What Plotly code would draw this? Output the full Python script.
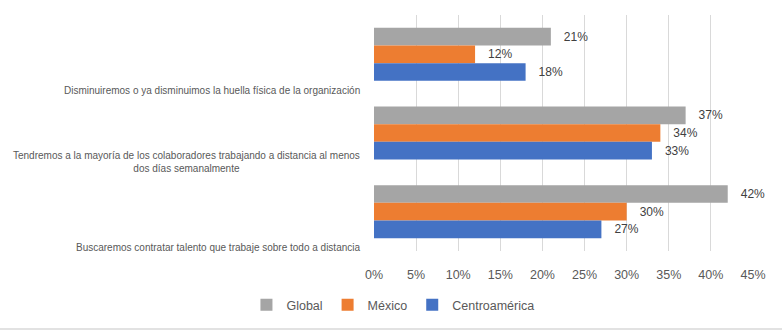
import plotly.graph_objects as go

categories = [
    "Disminuiremos o ya disminuimos la huella física de la organización",
    "Tendremos a la mayoría de los colaboradores trabajando a distancia al menos<br>dos días semanalmente",
    "Buscaremos contratar talento que trabaje sobre todo a distancia",
]
series_names = ["Global", "México", "Centroamérica"]
global_vals = [0.21, 0.37, 0.42]
mexico_vals = [0.12, 0.34, 0.30]
centro_vals = [0.18, 0.33, 0.27]
tick_vals = [0, 0.05, 0.10, 0.15, 0.20, 0.25, 0.30, 0.35, 0.40, 0.45]
tick_text = ["0%", "5%", "10%", "15%", "20%", "25%", "30%", "35%", "40%", "45%"]

colors = ["#A5A5A5", "#ED7D31", "#4472C4"]
FONT = "Liberation Sans"

ypos = list(range(len(categories)))
fig = go.Figure()
for name, vals, col in zip(series_names, [global_vals, mexico_vals, centro_vals], colors):
    fig.add_trace(go.Bar(
        x=vals, y=ypos, orientation="h", name=name,
        marker=dict(color=col, line=dict(width=0)),
        text=[f"{round(v*100)}%" for v in vals],
        texttemplate="   %{text}",
        textposition="outside", cliponaxis=False,
        textfont=dict(size=12, color="#404040", family=FONT),
    ))

for i, cat in enumerate(categories):
    fig.add_annotation(
        x=0, xref="paper", y=i + 0.5, yref="y",
        text=cat, showarrow=False, xanchor="right", yanchor="bottom",
        align="center", xshift=-12, yshift=-4,
        font=dict(size=10, color="#595959", family=FONT),
    )

fig.add_shape(type="line", xref="paper", yref="paper",
              x0=-374/379, x1=408/379, y0=-78/236, y1=-78/236,
              line=dict(color="#D9D9D9", width=1.5))

fig.update_layout(
    width=782, height=333,
    margin=dict(l=374, r=29, t=15, b=82),
    paper_bgcolor="white", plot_bgcolor="white",
    barmode="group", bargap=0.327, bargroupgap=0,
    font=dict(family=FONT, color="#595959"),
    xaxis=dict(range=[0, 0.45], tickvals=tick_vals, ticktext=tick_text,
               showgrid=True, gridcolor="#D9D9D9", gridwidth=1,
               zeroline=False, showline=False, ticks="",
               ticklabelstandoff=14,
               tickfont=dict(size=12.5, color="#595959", family=FONT)),
    yaxis=dict(showticklabels=False, showgrid=False,
               zeroline=False, showline=False, ticks="",
               autorange=False, range=[2.5, -0.5]),
    legend=dict(orientation="h", x=0.05, xanchor="center",
                y=-54/236, yanchor="middle",
                font=dict(size=12.5, color="#595959", family=FONT),
                itemwidth=30, traceorder="normal"),
    showlegend=True,
)

fig.write_html("out.html")
